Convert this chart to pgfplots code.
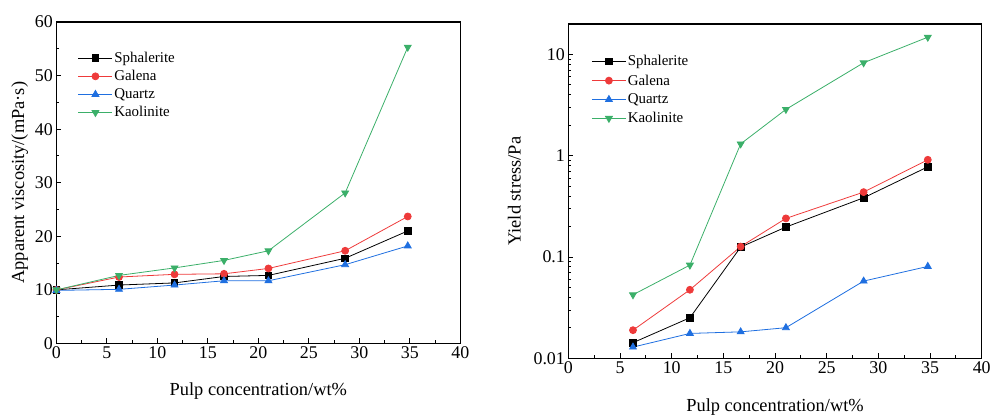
\documentclass[border=0pt]{standalone}
\usepackage{fontspec}
\setmainfont{Liberation Serif}
\usepackage{pgfplots}
\pgfplotsset{compat=1.18}
\definecolor{cred}{RGB}{238,58,58}
\definecolor{cblue}{RGB}{31,111,224}
\definecolor{cgreen}{RGB}{59,175,105}
\pgfplotsset{
  myax/.style={
    scale only axis,
    axis line style={line width=1.3pt},
    tick style={line width=1pt, black},
    tick align=inside,
    xtick pos=bottom, ytick pos=left,
    major tick length=5pt, minor tick length=3pt,
    xmin=0, xmax=40, xtick={0,5,...,40},
    minor x tick num=1,
    /pgf/number format/assume math mode=true,
    ticklabel style={font=\fontsize{18}{20}\selectfont},
    label style={font=\fontsize{18.5}{20}\selectfont},
    legend style={draw=none, fill=none, font=\fontsize{15}{17}\selectfont, row sep=3.5pt, inner sep=0pt,
      nodes={inner sep=1.5pt}},
    legend cell align=left,
    legend image code/.code={\draw[mark repeat=2,mark phase=2] plot coordinates {(0bp,0bp) (17bp,0bp) (34bp,0bp)};},
    every axis plot/.append style={line width=0.8pt, mark size=3.5pt},
  }
}
\begin{document}
\begin{tikzpicture}
\begin{axis}[myax, name=L, at={(0bp,0bp)}, anchor=south west,
  width=404.5bp, height=322bp,
  ymin=0, ymax=60, ytick={0,10,...,60}, minor y tick num=1,
  xlabel={Pulp concentration/wt\%}, ylabel={Apparent viscosity/(mPa·s)},
  xlabel style={yshift=-17pt}, ylabel style={yshift=0pt},
  legend style={at={(21.5/404.5,1-28.5/322)}, anchor=north west},
]
\addplot[black, mark=square*, mark size=3.3pt] coordinates {(0,10) (6.2,10.9) (11.7,11.3) (16.6,12.5) (21.0,12.7) (28.6,15.9) (34.8,21.0)};
\addlegendentry{Sphalerite}
\addplot[cred, mark=*] coordinates {(0,10) (6.2,12.4) (11.7,12.9) (16.6,13.0) (21.0,14.0) (28.6,17.3) (34.8,23.7)};
\addlegendentry{Galena}
\addplot[cblue, mark=triangle*, mark size=4pt] coordinates {(0,9.9) (6.2,10.1) (11.7,10.9) (16.6,11.7) (21.0,11.7) (28.6,14.7) (34.8,18.2)};
\addlegendentry{Quartz}
\addplot[cgreen, mark=triangle*, mark options={rotate=180}, mark size=4pt] coordinates {(0,10) (6.2,12.7) (11.7,14.1) (16.6,15.5) (21.0,17.3) (28.6,28.1) (34.8,55.3)};
\addlegendentry{Kaolinite}
\end{axis}
\begin{axis}[myax, at={(512.8bp,-15bp)}, anchor=south west,
  width=414bp, height=335bp,
  ymode=log, ymin=0.01, ymax=20, ytick={0.01,0.1,1,10},
  yticklabels={0.01,0.1,1,10}, minor ytick={},
  xlabel={Pulp concentration/wt\%}, ylabel={Yield stress/Pa},
  xlabel style={yshift=-18pt}, ylabel style={yshift=6pt},
  legend style={at={(23/414,1-30/335)}, anchor=north west, row sep=4.3pt},
]
\addplot[black, mark=square*, mark size=3.3pt] coordinates {(6.25,0.0143) (11.76,0.0252) (16.67,0.1256) (21.05,0.198) (28.57,0.385) (34.78,0.778)};
\addlegendentry{Sphalerite}
\addplot[cred, mark=*] coordinates {(6.25,0.0190) (11.76,0.0476) (16.67,0.127) (21.05,0.241) (28.57,0.438) (34.78,0.913)};
\addlegendentry{Galena}
\addplot[cblue, mark=triangle*, mark size=4pt] coordinates {(6.25,0.01294) (11.76,0.01765) (16.67,0.0183) (21.05,0.0201) (28.57,0.058) (34.78,0.0809)};
\addlegendentry{Quartz}
\addplot[cgreen, mark=triangle*, mark options={rotate=180}, mark size=4pt] coordinates {(6.25,0.0425) (11.76,0.0834) (16.67,1.31) (21.05,2.87) (28.57,8.28) (34.78,14.8)};
\addlegendentry{Kaolinite}
\end{axis}
\path (-56.5bp,-73bp) rectangle (937.5bp,344bp);
\end{tikzpicture}
\end{document}
